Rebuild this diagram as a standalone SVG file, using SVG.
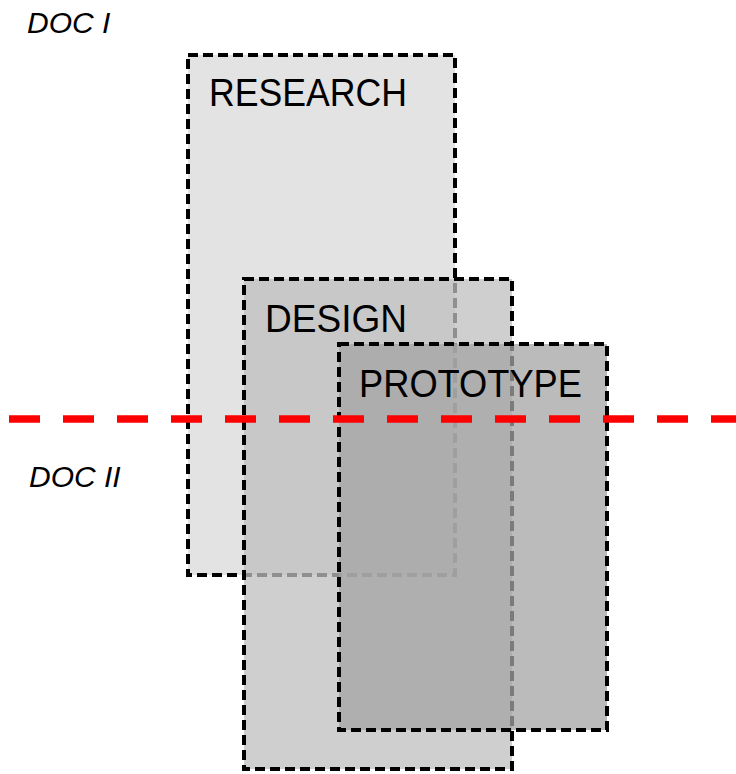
<svg xmlns="http://www.w3.org/2000/svg" width="736" height="774" viewBox="0 0 736 774">
<style>
.box{stroke:#000;stroke-width:4;stroke-dasharray:10 5}
.lbl{font-family:"Liberation Sans",Arial,sans-serif;font-size:39px;fill:#000}
.doc{font-family:"Liberation Sans",Arial,sans-serif;font-size:30px;font-style:italic;fill:#000}
</style>
<rect width="736" height="774" fill="#fff"/>
<g id="research">
<rect class="box" x="188" y="55" width="267" height="520" fill="#e3e3e3"/>
<text class="lbl" x="209" y="106" textLength="198" lengthAdjust="spacingAndGlyphs">RESEARCH</text>
</g>
<g id="design">
<rect class="box" x="244" y="279" width="268" height="490" fill="#bfbfbf" fill-opacity="0.75"/>
<text class="lbl" x="265" y="332" textLength="142" lengthAdjust="spacingAndGlyphs">DESIGN</text>
</g>
<g id="prototype">
<rect class="box" x="339" y="344" width="268" height="386" fill="#a4a4a4" fill-opacity="0.75"/>
<text class="lbl" x="359" y="397" textLength="223" lengthAdjust="spacingAndGlyphs">PROTOTYPE</text>
</g>
<g id="doc1"><text class="doc" x="27" y="33">DOC I</text></g>
<g id="doc2"><text class="doc" x="29" y="487">DOC II</text></g>
<g id="connectors">
<line x1="9" y1="419" x2="736" y2="419" stroke="#ff0000" stroke-width="7.5" stroke-dasharray="31 23"/>
</g>
</svg>
